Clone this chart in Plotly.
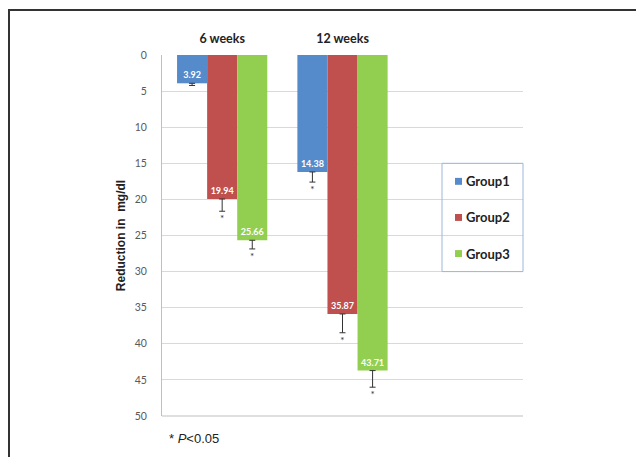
import plotly.graph_objects as go

categories = ["6 weeks", "12 weeks"]
groups = ["Group1", "Group2", "Group3"]
# bar lengths as drawn (reduction in mg/dl)
bar_values = {
    "Group1": [3.92, 16.2],
    "Group2": [19.94, 35.87],
    "Group3": [25.66, 43.71],
}
# printed data labels
label_values = {
    "Group1": ["3.92", "14.38"],
    "Group2": ["19.94", "35.87"],
    "Group3": ["25.66", "43.71"],
}
errors = {
    "Group1": [0.3, 1.4],
    "Group2": [1.7, 2.6],
    "Group3": [1.2, 2.3],
}
significant = {
    "Group1": [False, True],
    "Group2": [True, True],
    "Group3": [True, True],
}
colors = {"Group1": "#558BCB", "Group2": "#C0504D", "Group3": "#92CF50"}
y_ticks = [0, 5, 10, 15, 20, 25, 30, 35, 40, 45, 50]
legend_bands = [(15, 20), (20, 25), (25, 30)]

FONT = "Lato"
xpos = list(range(len(categories)))
bar_w = 0.25

# figure geometry (page body has an 8px margin)
W, H = 636, 449
L, T, R, B = 154, 47, 121, 41
PW = W - L - R
PH = H - T - B


def px_x(x):
    return (x - 8 - L) / PW


def px_y(y):
    return (H - B - (y - 8)) / PH


fig = go.Figure()
for i, g in enumerate(groups):
    fig.add_trace(go.Bar(
        x=xpos, y=bar_values[g], name=g, marker_color=colors[g],
        marker_line_width=0, width=bar_w,
        offset=(i - 1.5) * bar_w,
        text=label_values[g], textposition="inside", insidetextanchor="end",
        textfont=dict(family=FONT, size=9, color="white", weight="bold"),
        constraintext="none", cliponaxis=False,
        error_y=dict(type="data", symmetric=False, array=errors[g],
                     arrayminus=[0] * len(xpos), color="#333333",
                     thickness=1, width=3),
        showlegend=False,
    ))
    sx, sy = [], []
    for j, x in enumerate(xpos):
        if significant[g][j]:
            sx.append(x + (i - 1) * bar_w)
            sy.append(bar_values[g][j] + errors[g][j] + 0.5)
    fig.add_trace(go.Scatter(
        x=sx, y=sy, mode="text", text=["*"] * len(sx),
        textposition="bottom center",
        textfont=dict(family=FONT, size=10, color="#333333"),
        showlegend=False, hoverinfo="skip", cliponaxis=False,
    ))

shapes = [
    dict(type="line", xref="paper", yref="paper",
         x0=0, x1=1, y0=0, y1=0, line=dict(color="#BFBFBF", width=1)),
    dict(type="line", xref="paper", yref="paper",
         x0=px_x(8), x1=px_x(660), y0=px_y(10), y1=px_y(10),
         line=dict(color="#333333", width=2)),
    dict(type="line", xref="paper", yref="paper",
         x0=px_x(9), x1=px_x(9), y0=px_y(10), y1=px_y(480),
         line=dict(color="#333333", width=2)),
    # legend box
    dict(type="rect", xref="paper", yref="y",
         x0=px_x(442), x1=1.0, y0=legend_bands[0][0], y1=legend_bands[-1][1],
         line=dict(color="#9DB7DD", width=1), fillcolor="rgba(0,0,0,0)"),
]
annotations = [dict(
    xref="paper", yref="paper", x=px_x(167), y=px_y(438),
    xanchor="left", yanchor="middle", showarrow=False,
    text="* <i>P</i><0.05",
    font=dict(family="Liberation Sans", size=13, color="#222222"),
)]
for g, (a, b) in zip(groups, legend_bands):
    mid = (a + b) / 2
    shapes.append(dict(type="rect", xref="paper", yref="y",
                       x0=px_x(455), x1=px_x(462), y0=mid - 0.48, y1=mid + 0.48,
                       line=dict(width=0), fillcolor=colors[g]))
    annotations.append(dict(xref="paper", yref="y", x=px_x(464), y=mid,
                            xanchor="left", yanchor="middle", showarrow=False,
                            text=g,
                            font=dict(family=FONT, size=13, color="#222222",
                                      weight="bold")))

fig.update_layout(
    width=W, height=H,
    margin=dict(l=L, r=R, t=T, b=B),
    paper_bgcolor="white", plot_bgcolor="white",
    showlegend=False,
    xaxis=dict(
        range=[-0.5, 2.5], side="top", tickmode="array",
        tickvals=xpos, ticktext=categories, showgrid=False, zeroline=False,
        showline=False, ticks="", ticklabelstandoff=9,
        tickfont=dict(family=FONT, size=12.5, color="#222222", weight="bold"),
    ),
    yaxis=dict(
        range=[50, 0], tickmode="array", tickvals=y_ticks,
        showgrid=True, gridcolor="#D9D9D9", gridwidth=1, zeroline=False,
        showline=True, linecolor="#BFBFBF", linewidth=1, ticks="",
        ticklabelstandoff=12,
        tickfont=dict(family=FONT, size=10.5, color="#595959"),
        title=dict(text="Reduction in  mg/dl", standoff=6,
                   font=dict(family="Liberation Sans", size=12, color="#222222",
                             weight="bold")),
    ),
    annotations=annotations,
    shapes=shapes,
)

fig.write_html("out.html")
